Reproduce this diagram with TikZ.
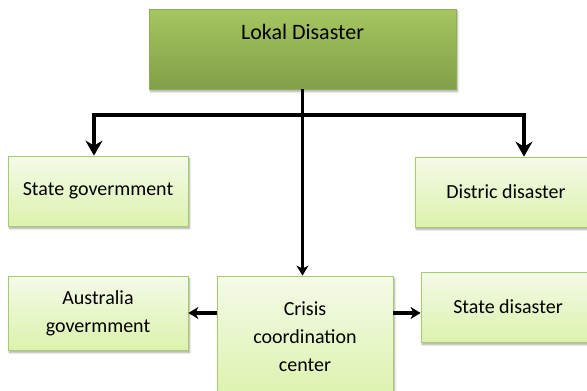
\documentclass[tikz,border=0pt]{standalone}
\usepackage{fontspec}
\setmainfont{Carlito}
\usepackage{xcolor}
\usetikzlibrary{arrows.meta,shadows.blur}
\definecolor{oliveA}{HTML}{A6C661}
\definecolor{oliveB}{HTML}{819F48}
\definecolor{oliveE}{HTML}{8EAE52}
\definecolor{limeA}{HTML}{F4FAE8}
\definecolor{limeB}{HTML}{DCF2AC}
\definecolor{limeE}{HTML}{A9CA6C}
\tikzset{
  shade box/.style={blur shadow={shadow xshift=1.5pt, shadow yshift=-2.5pt, shadow blur steps=6, shadow opacity=35}},
  headbox/.style={shade box, draw=oliveE, line width=0.8pt, top color=oliveA, bottom color=oliveB,
    minimum width=307, minimum height=80, inner sep=0pt, text height=30, text depth=50,
    font=\fontsize{22}{26}\selectfont},
  unitbox/.style={shade box, draw=limeE, line width=0.8pt, top color=limeA, bottom color=limeB,
    align=center, inner sep=0pt, font=\fontsize{20}{28}\selectfont},
  bigarrow/.style={line width=3.2pt, -{Stealth[length=15pt,width=17pt,inset=5pt]}},
  smallarrow/.style={line width=3.2pt, -{Stealth[length=10pt,width=12pt,inset=3pt]}},
  plainline/.style={line width=3.2pt}
}
\begin{document}
\begin{tikzpicture}[x=1pt, y=-1pt]
  \useasboundingbox (0,0) rectangle (587,391);

  % top level
  \node[headbox] (lokal) at (302.5,49) {Lokal Disaster};

  % second level
  \node[unitbox, minimum width=180, minimum height=70] (stategov) at (98,191) {State govermment};
  \node[unitbox, minimum width=182, minimum height=70] (distric) at (506,192) {Distric disaster};

  % third level
  \node[unitbox, minimum width=180, minimum height=74] (australia) at (98,313) {Australia\\govermment};
  \node[unitbox, minimum width=176, minimum height=122] (crisis) at (305,337) {Crisis\\coordination\\center};
  \node[unitbox, minimum width=174, minimum height=70] (statedis) at (508,307) {State disaster};

  % connectors
  \coordinate (junL) at (94,115);
  \coordinate (junR) at (524,115);
  \draw[plainline] (junL |- 0,116.6) |- (junR) -- (junR |- 0,116.6);
  \draw[bigarrow] (junL) -- (junL |- stategov.north);
  \draw[bigarrow] (junR) -- (junR |- distric.north);
  \draw[smallarrow] (lokal.south) -- (lokal.south |- crisis.north);
  \draw[smallarrow] (crisis.west |- australia.east) -- (australia.east);
  \draw[smallarrow] (crisis.east |- australia.east) -- (statedis.west |- australia.east);
\end{tikzpicture}
\end{document}
